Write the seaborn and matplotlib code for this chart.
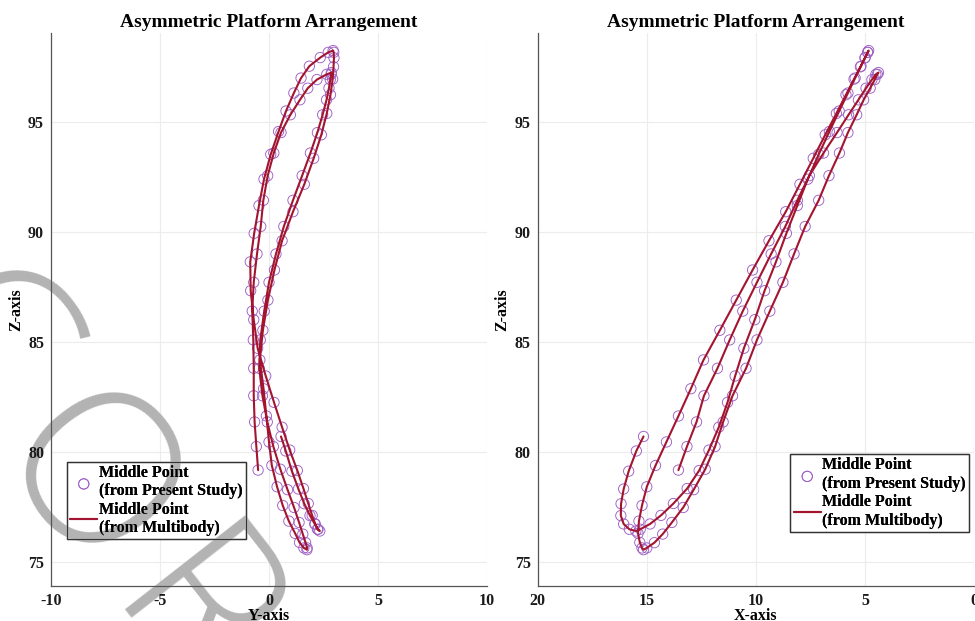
import numpy as np
import pandas as pd
import matplotlib
matplotlib.use('Agg')
import matplotlib.pyplot as plt
import seaborn as sns

# Middle point trajectory, in time order, read off the two projections
# (segments: start -> bottom 1 -> top 1 -> bottom 2 -> top 2 -> end)
x_pos = [15.15, 15.48, 15.83, 16.06, 16.18, 16.19, 16.06, 15.80, 15.50,
         15.30, 14.85, 14.35, 13.78, 13.15, 12.60, 12.15, 11.70, 11.30, 10.95, 10.55, 10.05, 9.60,
         9.08, 8.60, 8.10, 7.62, 7.12, 6.63, 6.18, 5.78, 5.45, 5.18, 4.99, 4.88, 4.83,
         4.87, 5.00, 5.21, 5.50, 5.87, 6.31, 6.82, 7.37, 7.98, 8.63, 9.40, 10.15, 10.90,
         11.65, 12.40, 12.98, 13.55, 14.10, 14.60, 15.00, 15.22, 15.36, 15.40, 15.32, 15.22, 15.15,
         15.00, 14.65, 14.27, 13.85, 13.33, 12.85, 12.32, 11.87, 11.50, 11.07, 10.45, 9.95, 9.36,
         8.76, 8.25, 7.74, 7.12, 6.65, 6.17, 5.78, 5.38, 5.06, 4.76, 4.55, 4.43, 4.38,
         4.50, 4.68, 4.95, 5.30, 5.75, 6.28, 6.90, 7.55, 8.10, 8.65, 9.30, 9.95, 10.60,
         11.20, 11.76, 12.38, 12.72, 13.16, 13.55]

y_pos = [0.55, 0.77, 1.05, 1.35, 1.62, 1.88, 2.10, 2.25, 2.33,
         2.22, 2.12, 1.98, 1.80, 1.58, 1.30, 0.95, 0.60, 0.23, -0.15, -0.52, -0.70, -0.84,
         -0.86, -0.68, -0.46, -0.23, 0.08, 0.44, 0.78, 1.14, 1.47, 1.85, 2.35, 2.72, 2.94,
         2.97, 2.98, 2.96, 2.92, 2.82, 2.65, 2.40, 2.05, 1.62, 1.10, 0.60, 0.25, -0.05,
         -0.28, -0.42, -0.25, -0.12, 0.00, 0.13, 0.37, 0.63, 0.91, 1.20, 1.40, 1.60, 1.74,
         1.75, 1.68, 1.55, 1.38, 1.15, 0.85, 0.52, 0.20, -0.08, -0.30, -0.45, -0.40, -0.22,
         0.00, 0.32, 0.68, 1.10, 1.52, 1.90, 2.22, 2.46, 2.64, 2.75, 2.81, 2.85, 2.86,
         2.65, 2.20, 1.78, 1.42, 0.98, 0.55, 0.22, -0.06, -0.26, -0.38, -0.55, -0.70, -0.77,
         -0.72, -0.70, -0.70, -0.66, -0.58, -0.50]

z_pos = [80.70, 80.04, 79.12, 78.31, 77.64, 77.10, 76.72, 76.48, 76.40,
         76.48, 76.72, 77.11, 77.65, 78.33, 79.15, 80.08, 81.12, 82.25, 83.45, 84.71, 86.01, 87.33,
         88.64, 89.94, 91.20, 92.40, 93.53, 94.57, 95.50, 96.32, 97.00, 97.54, 97.93, 98.17, 98.25,
         98.17, 97.92, 97.51, 96.95, 96.24, 95.39, 94.42, 93.35, 92.17, 90.92, 89.60, 88.27, 86.90,
         85.53, 84.18, 82.87, 81.63, 80.45, 79.38, 78.41, 77.56, 76.85, 76.29, 75.88, 75.63, 75.55,
         75.63, 75.87, 76.26, 76.79, 77.47, 78.28, 79.21, 80.24, 81.36, 82.55, 83.80, 85.09, 86.40,
         87.71, 89.00, 90.25, 91.44, 92.56, 93.59, 94.52, 95.33, 96.01, 96.54, 96.93, 97.17, 97.25,
         97.17, 96.93, 96.54, 96.01, 95.33, 94.52, 93.59, 92.56, 91.44, 90.25, 89.00, 87.71, 86.40,
         85.09, 83.80, 82.55, 81.36, 80.24, 79.17]

y_ticks = [-10, -5, 0, 5, 10]
x_ticks = [20, 15, 10, 5, 0]
z_ticks = [75, 80, 85, 90, 95]

TITLE = 'Asymmetric Platform Arrangement'
LABEL_STUDY = 'Middle Point\n(from Present Study)'
LABEL_MB = 'Middle Point\n(from Multibody)'
WATERMARK = ['N', 'C', 'O', 'R', 'R']

LINE_COLOR = '#a2142f'
MARKER_COLOR = '#9d5fc4'
AXIS_COLOR = '#555555'
GRID_COLOR = '#ececec'

sns.set_theme(style='white')
plt.rcParams['font.family'] = ['Liberation Serif', 'DejaVu Serif']
plt.rcParams['font.weight'] = 'bold'
plt.rcParams['axes.unicode_minus'] = False
plt.rcParams['text.color'] = 'black'
plt.rcParams['axes.labelcolor'] = 'black'
plt.rcParams['axes.titlecolor'] = 'black'

fig = plt.figure(figsize=(9.75, 6.21), dpi=100)
ax_left = fig.add_axes([0.0523, 0.0564, 0.4472, 0.8905])
ax_right = fig.add_axes([0.5515, 0.0564, 0.4475, 0.8905])

LEG_KW = dict(borderaxespad=0, fancybox=False, framealpha=1, edgecolor='#333333',
              borderpad=0.2, handlelength=1.7, handletextpad=0.1, labelspacing=0.15,
              prop={'weight': 'bold', 'size': 11.5})

# draw order: grid 0.2 < legend box 0.3 < watermark 0.4 < axis/ticks 0.5 < data < legend text


def draw_panel(ax, horiz, xlabel, xlim, xticks, legend_loc, legend_anchor):
    ax.set_axisbelow(True)
    for v in xticks:
        ax.axvline(v, color=GRID_COLOR, lw=0.8, zorder=0.2)
    for v in z_ticks:
        ax.axhline(v, color=GRID_COLOR, lw=0.8, zorder=0.2)
    sns.scatterplot(x=horiz, y=z_pos, ax=ax, marker='o', s=55,
                    facecolor='none', edgecolor=MARKER_COLOR, linewidth=0.65,
                    label=LABEL_STUDY, zorder=2)
    sns.lineplot(x=horiz, y=z_pos, ax=ax, sort=False, estimator=None,
                 color=LINE_COLOR, lw=1.5, label=LABEL_MB, zorder=3)
    ax.set_xlim(*xlim)
    ax.set_ylim(73.9, 99.05)
    ax.set_xticks(xticks)
    ax.set_yticks(z_ticks)
    ax.grid(False)
    ax.set_title(TITLE, fontsize=14, fontweight='bold', pad=4)
    ax.set_xlabel(xlabel, fontsize=11.5, fontweight='bold', labelpad=-1)
    ax.set_ylabel('Z-axis', fontsize=11.5, fontweight='bold', labelpad=3)
    ax.tick_params(direction='in', length=3, width=0.8, color=AXIS_COLOR,
                   labelcolor='#1a1a1a', labelsize=11.5, pad=5)
    for lab in ax.get_xticklabels() + ax.get_yticklabels():
        lab.set_fontweight('bold')
    for side in ['top', 'right']:
        ax.spines[side].set_visible(False)
    for side in ['left', 'bottom']:
        ax.spines[side].set_color(AXIS_COLOR)
        ax.spines[side].set_linewidth(0.9)
    handles, labels = ax.get_legend_handles_labels()
    # white box under the watermark, then the same legend (no fill) on top
    back = ax.legend(handles, labels, loc=legend_loc, bbox_to_anchor=legend_anchor, **LEG_KW)
    back.set_zorder(0.3)
    ax.add_artist(back)
    front = ax.legend(handles, labels, loc=legend_loc, bbox_to_anchor=legend_anchor, **LEG_KW)
    front.get_frame().set_facecolor('none')
    front.get_frame().set_linewidth(0.8)
    front.set_zorder(5)


draw_panel(ax_left, y_pos, 'Y-axis', (-10, 10), y_ticks, 'lower left', (0.0367, 0.0844))
draw_panel(ax_right, x_pos, 'X-axis', (20, 0), x_ticks, 'lower right', (0.989, 0.098))

# gray proof watermark on the left side (under texts and lines)
wm_x = [-130, -25, 80, 185, 290]
wm_y = [220, 355, 490, 625, 760]
for ch, px, py in zip(WATERMARK, wm_x, wm_y):
    ax_left.text(px / 975, 1 - py / 621, ch, transform=fig.transFigure, clip_on=False,
                 rotation=-52, rotation_mode='anchor', ha='center', va='center',
                 fontsize=155, color='#b3b3b3',
                 family=['Open Sans', 'Roboto', 'DejaVu Sans'], fontweight=300, zorder=0.4)

fig.savefig('out.png', dpi=100)
plt.close(fig)
